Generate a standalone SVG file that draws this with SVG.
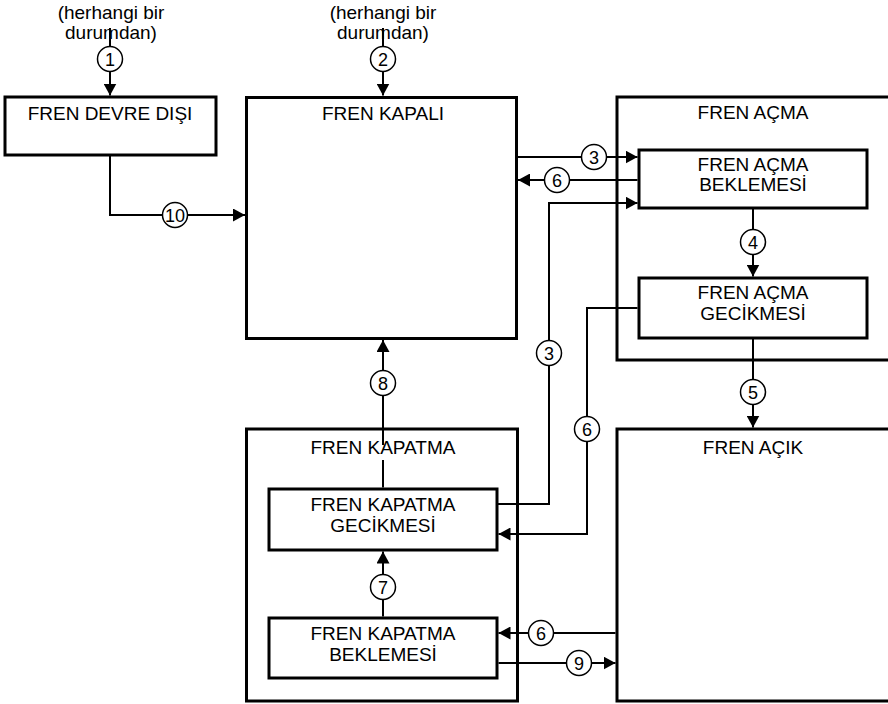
<svg xmlns="http://www.w3.org/2000/svg" width="888" height="704" viewBox="0 0 888 704">
<style>
.box{fill:none;stroke:#000;stroke-width:3}
.ln{fill:none;stroke:#000;stroke-width:2}
.arr{marker-end:url(#ah)}
.c{fill:#fff;stroke:#000;stroke-width:1.5}
text{font-family:"Liberation Sans",Arial,sans-serif;font-size:19px;fill:#000;text-anchor:middle}
.n{font-size:18px}
</style>
<defs>
<marker id="ah" markerUnits="userSpaceOnUse" markerWidth="13" markerHeight="13" refX="12" refY="6.5" orient="auto">
<path d="M0,0 L12,6.5 L0,13 z" fill="#000"/>
</marker>
</defs>
<rect width="888" height="704" fill="#fff"/>
<g id="labels-top">
<text x="111" y="19">(herhangi bir</text>
<text x="111" y="39">durumdan)</text>
<text x="383" y="19">(herhangi bir</text>
<text x="383" y="39">durumdan)</text>
</g>
<g id="fren-devre-disi">
<rect class="box" x="5" y="97" width="211" height="58"/>
<text x="110" y="120">FREN DEVRE DIŞI</text>
</g>
<g id="fren-kapali">
<rect class="box" x="246.5" y="97.5" width="270" height="241"/>
<text x="383" y="120">FREN KAPALI</text>
</g>
<g id="fren-acma">
<rect class="box" x="617" y="97" width="290" height="263"/>
<text x="753" y="119">FREN AÇMA</text>
</g>
<g id="fren-acma-beklemesi">
<rect class="box" x="639" y="150" width="228" height="58"/>
<text x="753" y="171">FREN AÇMA</text>
<text x="753" y="191">BEKLEMESİ</text>
</g>
<g id="fren-acma-gecikmesi">
<rect class="box" x="639" y="278" width="228" height="60"/>
<text x="753" y="299">FREN AÇMA</text>
<text x="753" y="320">GECİKMESİ</text>
</g>
<g id="fren-acik">
<rect class="box" x="617" y="429" width="290" height="272"/>
<text x="753" y="454">FREN AÇIK</text>
</g>
<g id="fren-kapatma">
<rect class="box" x="246.5" y="429" width="271" height="272"/>
<text x="383" y="454">FREN KAPATMA</text>
</g>
<g id="fren-kapatma-gecikmesi">
<rect class="box" x="269" y="489" width="228" height="61"/>
<text x="383" y="511">FREN KAPATMA</text>
<text x="383" y="532">GECİKMESİ</text>
</g>
<g id="fren-kapatma-beklemesi">
<rect class="box" x="269" y="618" width="228" height="60"/>
<text x="383" y="640">FREN KAPATMA</text>
<text x="383" y="661">BEKLEMESİ</text>
</g>
<g id="connectors">
<path class="ln arr" d="M110,28 V95.5"/>
<path class="ln arr" d="M383,28 V95.5"/>
<path class="ln arr" d="M110,156 V215 H245"/>
<path class="ln arr" d="M518,157 H637.5"/>
<path class="ln arr" d="M637.5,180 H518"/>
<path class="ln arr" d="M498,504 H549 V203 H637.5"/>
<path class="ln arr" d="M753,209 V276.5"/>
<path class="ln arr" d="M637.5,308 H587 V534 H498.5"/>
<path class="ln arr" d="M753,339 V427.5"/>
<path class="ln" d="M383,487.5 V460"/>
<path class="ln arr" d="M383,445 V340"/>
<path class="ln arr" d="M383,616.5 V551.5"/>
<path class="ln arr" d="M615.5,633 H498.5"/>
<path class="ln arr" d="M498.5,663 H615.5"/>
<circle class="c" cx="110" cy="59" r="12.5"/><text class="n" x="110" y="65.5">1</text>
<circle class="c" cx="383" cy="59" r="12.5"/><text class="n" x="383" y="65.5">2</text>
<circle class="c" cx="175" cy="215" r="12.5"/><text class="n" x="175" y="221.5">10</text>
<circle class="c" cx="594" cy="157" r="12.5"/><text class="n" x="594" y="163.5">3</text>
<circle class="c" cx="557" cy="180" r="12.5"/><text class="n" x="557" y="186.5">6</text>
<circle class="c" cx="549" cy="353" r="12.5"/><text class="n" x="549" y="359.5">3</text>
<circle class="c" cx="753" cy="242" r="12.5"/><text class="n" x="753" y="248.5">4</text>
<circle class="c" cx="587" cy="429" r="12.5"/><text class="n" x="587" y="435.5">6</text>
<circle class="c" cx="753" cy="392" r="12.5"/><text class="n" x="753" y="398.5">5</text>
<circle class="c" cx="383" cy="383" r="12.5"/><text class="n" x="383" y="389.5">8</text>
<circle class="c" cx="383" cy="587" r="12.5"/><text class="n" x="383" y="593.5">7</text>
<circle class="c" cx="541" cy="633" r="12.5"/><text class="n" x="541" y="639.5">6</text>
<circle class="c" cx="579" cy="663" r="12.5"/><text class="n" x="579" y="669.5">9</text>
</g>
</svg>
